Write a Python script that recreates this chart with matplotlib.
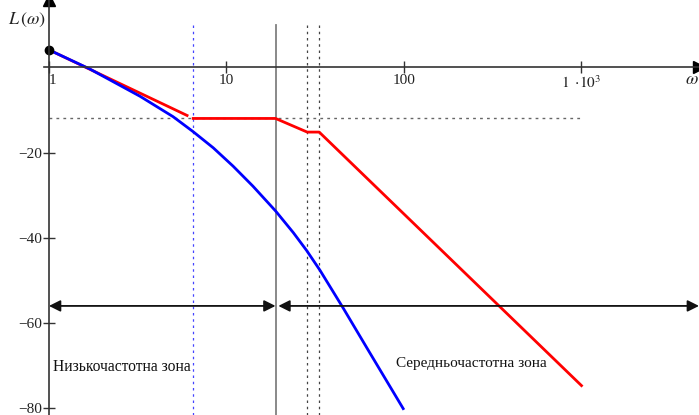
import matplotlib
matplotlib.use('Agg')
import matplotlib.pyplot as plt
import numpy as np

plt.rcParams['font.family'] = ['Liberation Serif', 'DejaVu Serif']
plt.rcParams['mathtext.fontset'] = 'stix'

# red asymptotic LAFC (two pieces, gap near w=6.3)
red_w1 = [1.0, 6.0]
red_L1 = [4.1, -11.3]
red_w2 = [6.5, 18.9, 28.5, 33.3, 1000.0]
red_L2 = [-12.0, -12.0, -15.2, -15.2, -74.7]

# blue curve
blue_w = [1.0, 1.70, 3.26, 5.01, 6.49, 8.43, 10.9, 14.1, 18.9, 23.8, 28.3, 33.6, 45.6, 61.7, 99.0]
blue_L = [4.1, -0.4, -6.8, -11.6, -15.1, -18.9, -23.2, -27.9, -33.7, -38.8, -43.0, -47.6, -56.6, -65.8, -80.1]

# marker lines
w_blue_dot = 6.5
w_solid = 18.9
w_dots = [28.6, 33.4]
L_level = -12.0
L_arrows = -56.0
L_top = 10.0

xticks = [1, 10, 100, 1000]
xlabels = ['1', '10', '100', r'$1\ \cdot\!10^{3}$']
yticks = [-20, -40, -60, -80]

fig = plt.figure(figsize=(6.99, 4.15), dpi=100)
ax = fig.add_axes([0, 0, 1, 1])
ax.set_xscale('log')
ax.set_xlim(0.53, 4592)
ax.set_ylim(-81.6, 15.8)

for s in ['top', 'right']:
    ax.spines[s].set_visible(False)
ax.spines['left'].set_position(('data', 1))
ax.spines['bottom'].set_position(('data', 0))
ax.spines['bottom'].set_bounds(0.94, 4592)
for s in ['left', 'bottom']:
    ax.spines[s].set_color('#333333')
    ax.spines[s].set_linewidth(1.2)

ax.set_xticks(xticks)
ax.set_xticklabels(xlabels)
ax.minorticks_off()
ax.set_yticks(yticks)
ax.tick_params(axis='both', direction='inout', length=8, width=1, color='#333333',
               labelsize=11, labelcolor='#222222')
ax.tick_params(axis='x', pad=1)
ax.tick_params(axis='y', pad=1)
ax.get_xticklabels()[0].set_horizontalalignment('left')

# axis arrows
ax.plot(1, 0, '>', color='black', ms=9, transform=ax.get_yaxis_transform(), clip_on=False)
ax.plot(1, 1, '^', color='black', ms=9, transform=ax.get_xaxis_transform(), clip_on=False)

# guide lines
ax.plot([w_blue_dot, w_blue_dot], [L_top, -81.6], ls=(0, (2, 3)), color='#4444ff', lw=0.9)
ax.plot([w_solid, w_solid], [L_top, -81.6], ls='-', color='#808080', lw=1.3)
for w in w_dots:
    ax.plot([w, w], [L_top, -81.6], ls=(0, (2, 3)), color='#444444', lw=0.9)
ax.plot([1, 1000], [L_level, L_level], ls=(0, (2, 3)), color='#666666', lw=1.0)

# curves
ax.plot(red_w1, red_L1, color='#ff0000', lw=2)
ax.plot(red_w2, red_L2, color='#ff0000', lw=2)
ax.plot(blue_w, blue_L, color='#0000ff', lw=2)
ax.plot(1, 4.1, 'o', color='black', ms=6, clip_on=False)

# zone arrows
ap = dict(arrowstyle='<|-|>', color='#111111', lw=1.3, mutation_scale=17, shrinkA=0, shrinkB=0)
ax.annotate('', xy=(1, L_arrows), xytext=(w_solid, L_arrows), arrowprops=ap)
ax.annotate('', xy=(19.6, L_arrows), xytext=(4592, L_arrows), arrowprops=ap, annotation_clip=False)

ax.text(1.05, -70.3, 'Низькочастотна зона', fontsize=11.2, va='center', ha='left', color='#111111')
ax.text(90, -69.6, 'Середньочастотна зона', fontsize=11.0, va='center', ha='left', color='#111111')

fig.text(8/699, 1 - 20/415, r'$L\,(\omega)$', fontsize=13, va='center', ha='left', color='#222222')
fig.text(692/699, 1 - 80/415, r'$\omega$', fontsize=13, va='center', ha='center', color='#222222')

fig.savefig('out.png', dpi=100)
